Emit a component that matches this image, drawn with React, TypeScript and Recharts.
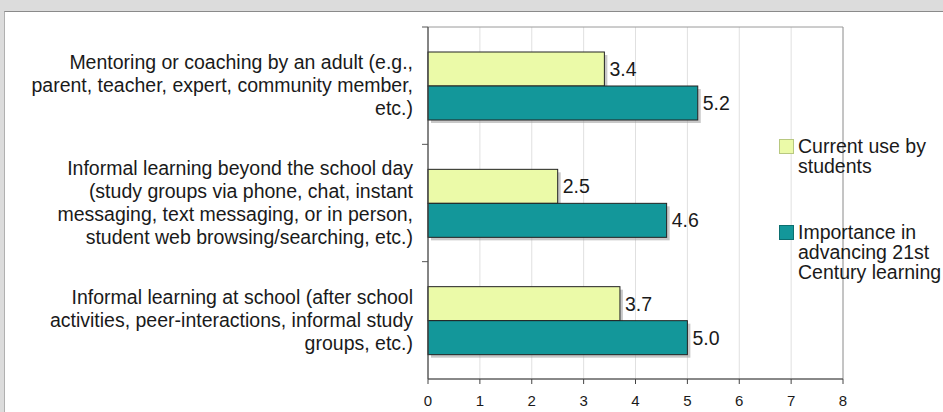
import React from "react";
import {
  BarChart,
  Bar,
  XAxis,
  YAxis,
  CartesianGrid,
  LabelList,
  Legend,
  ReferenceArea,
} from "recharts";

const categories = [
  ["Mentoring or coaching by an adult (e.g.,", "parent, teacher, expert, community member,", "etc.)"],
  [
    "Informal learning beyond the school day",
    "(study groups via phone, chat, instant",
    "messaging, text messaging, or in person,",
    "student web browsing/searching, etc.)",
  ],
  ["Informal learning at school (after school", "activities, peer-interactions, informal study", "groups, etc.)"],
];
const currentUse = [3.4, 2.5, 3.7];
const importance = [5.2, 4.6, 5.0];
const xTicks = [0, 1, 2, 3, 4, 5, 6, 7, 8];
const seriesNames = ["Current use by students", "Importance in advancing 21st Century learning"];
const legendLines = [["Current use by", "students"], ["Importance in", "advancing 21st", "Century learning"]];

const data = categories.map((lines, i) => ({
  name: String(i),
  current: currentUse[i],
  importance: importance[i],
}));

const W = 943;
const H = 412;
const MARGIN = { top: 27, right: 100, bottom: 3, left: 0 };
const X_AXIS_H = 30;
const BAND = (H - MARGIN.top - MARGIN.bottom - X_AXIS_H) / categories.length;
const FONT = "'Liberation Sans', Arial, Helvetica, sans-serif";
const LIGHT = "#ebfaa8";
const DARK = "#13979a";

const CategoryTick = (props: any) => {
  const { x, y, payload } = props;
  const lines = categories[Number(payload.value)];
  const lh = 23;
  const start = y - ((lines.length - 1) * lh) / 2;
  const axisX = x + 8;
  return (
    <g>
      <line x1={axisX - 6} x2={axisX} y1={y - BAND / 2} y2={y - BAND / 2} stroke="#555" />
      <text textAnchor="end" fontSize={19.5} fill="#1a1a1a" fontFamily={FONT}>
        {lines.map((l, i) => (
          <tspan key={i} x={x - 7} y={start + i * lh} dy="0.35em">
            {l}
          </tspan>
        ))}
      </text>
    </g>
  );
};

const ShadowBar = (props: any) => {
  const { x, y, width, height, fill } = props;
  if (!width || width <= 0) return null;
  return (
    <g>
      <rect x={x + 3} y={y + 3} width={width} height={height} fill="#9a9a9a" opacity={0.55} />
      <rect x={x} y={y} width={width} height={height} fill={fill} stroke="#222" strokeWidth={1} />
    </g>
  );
};

const LegendContent = () => (
  <div style={{ fontFamily: FONT, fontSize: 19.5, color: "#1a1a1a", lineHeight: "20px" }}>
    {legendLines.map((lines, i) => (
      <div key={i} style={{ display: "flex", alignItems: "flex-start", marginBottom: i === 0 ? 46 : 0 }}>
        <div
          style={{
            width: 13,
            height: 13,
            marginTop: 3,
            marginRight: 4,
            background: i === 0 ? LIGHT : DARK,
            border: "1px solid " + (i === 0 ? "#b8c880" : "#0c6f70"),
            flexShrink: 0,
          }}
        />
        <div style={{ whiteSpace: "nowrap" }}>
          {lines.map((l, j) => (
            <div key={j}>{l}</div>
          ))}
        </div>
      </div>
    ))}
  </div>
);

export default function App() {
  return (
    <div style={{ position: "absolute", left: 0, top: 0, width: W, height: H, background: "#dcdcdc", overflow: "hidden" }}>
      <div
        style={{
          position: "absolute",
          left: 4,
          top: 11,
          width: W,
          height: H,
          background: "#fff",
          borderTop: "1px solid #8a8a8a",
          borderLeft: "1px solid #b0b0b0",
        }}
      />
      <div style={{ position: "absolute", left: 0, top: 0 }}>
        <BarChart
          width={W}
          height={H}
          data={data}
          layout="vertical"
          margin={MARGIN}
          barSize={34}
          barGap={0}
        >
          <CartesianGrid horizontal={false} stroke="#e0e0e0" />
          <ReferenceArea x1={0} x2={8} fill="none" stroke="#9a9a9a" strokeWidth={1} ifOverflow="visible" />
          <XAxis
            type="number"
            domain={[0, 8]}
            ticks={xTicks}
            height={X_AXIS_H}
            tick={{ fontSize: 15, fill: "#1a1a1a", fontFamily: FONT }}
            tickSize={5}
            tickMargin={11}
            stroke="#444"
            interval={0}
          />
          <YAxis
            type="category"
            dataKey="name"
            width={428}
            tick={<CategoryTick />}
            tickLine={false}
            stroke="#444"
            interval={0}
          />
          <Legend
            layout="horizontal"
            verticalAlign="middle"
            align="center"
            content={<LegendContent />}
            wrapperStyle={{ position: "absolute", left: 779, top: 136, width: 170 }}
          />
          <Bar dataKey="current" name={seriesNames[0]} fill={LIGHT} shape={<ShadowBar />} isAnimationActive={false}>
            <LabelList
              dataKey="current"
              position="right"
              offset={5}
              formatter={(v: any) => Number(v).toFixed(1)}
              style={{ fontSize: 19.5, fill: "#1a1a1a", fontFamily: FONT }}
            />
          </Bar>
          <Bar dataKey="importance" name={seriesNames[1]} fill={DARK} shape={<ShadowBar />} isAnimationActive={false}>
            <LabelList
              dataKey="importance"
              position="right"
              offset={5}
              formatter={(v: any) => Number(v).toFixed(1)}
              style={{ fontSize: 19.5, fill: "#1a1a1a", fontFamily: FONT }}
            />
          </Bar>
        </BarChart>
      </div>
    </div>
  );
}
